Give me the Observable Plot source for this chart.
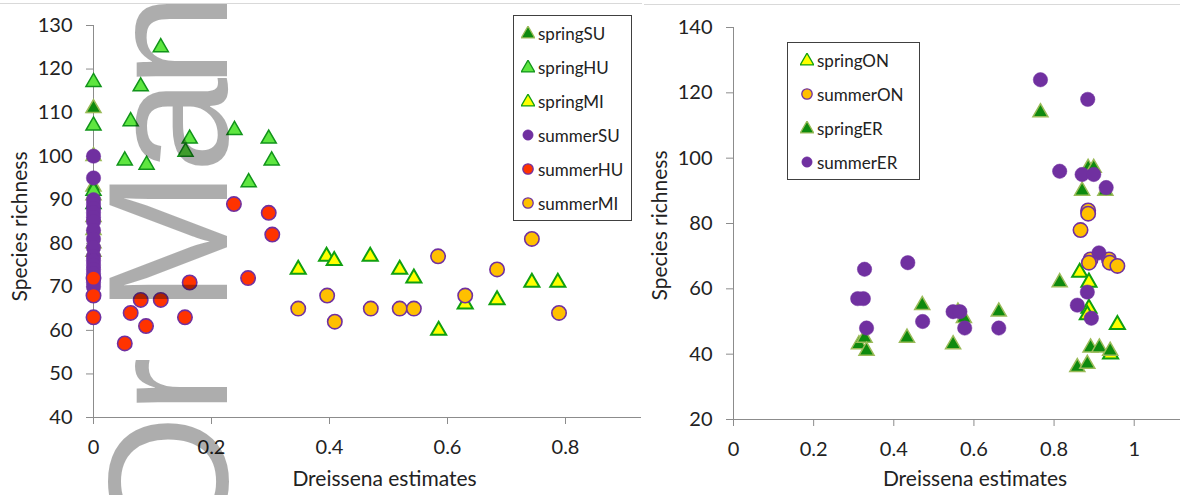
<!DOCTYPE html>
<html><head><meta charset="utf-8">
<script src="https://cdn.jsdelivr.net/npm/d3@7"></script>
<script src="https://cdn.jsdelivr.net/npm/@observablehq/plot@0.6"></script>
<style>
body{margin:0;background:#fff;font-family:Lato,sans-serif;}
#wrap{position:relative;width:1180px;height:495px;overflow:hidden;background:#fff;}
#left{position:absolute;left:0;top:0;}
#right{position:absolute;left:650px;top:0;}
.topline{position:absolute;height:1px;background:#d9d9d9;}
.legend{position:absolute;border:1px solid #404040;background:#fff;box-sizing:border-box;font-family:Lato,sans-serif;font-size:17px;color:#222;}
.legend .row{height:34px;display:flex;align-items:center;white-space:nowrap;}
.legend svg{flex:none;margin-right:3px;}
</style>
</head><body>
<div id="wrap">
  <div class="topline" style="left:0;top:3px;width:642px"></div>
  <div class="topline" style="left:644px;top:4px;width:536px"></div>
  <div id="left"></div>
  <div id="right"></div>
</div>
<script>
// ---------- data ----------
const xTitle = "Dreissena estimates";
const yTitle = "Species richness";
const watermark = "Or Man";

// left panel (Lake Superior, Huron, Michigan)
const leftXTicks = [0, 0.2, 0.4, 0.6, 0.8];
const leftYTicks = [40, 50, 60, 70, 80, 90, 100, 110, 120, 130];
const springSU = [[0,111],[0,100],[0,93],[0,91],[0,86],[0,83],[0,80],[0,78]];
const springHU = [[0,117],[0,107],[0,92],[0,89],[0.053,99],[0.063,108],[0.080,116],[0.090,98],[0.114,125],[0.156,101],[0.163,104],[0.239,106],[0.263,94],[0.297,104],[0.302,99]];
const springMI = [[0.347,74],[0.395,77],[0.408,76],[0.469,77],[0.519,74],[0.543,72],[0.585,60],[0.630,66],[0.684,67],[0.743,71],[0.787,71]];
const summerSU = [[0,100],[0,95],[0,90],[0,89],[0,88],[0,87],[0,86],[0,85],[0,83],[0,81],[0,79],[0,77],[0,76],[0,75],[0,74],[0,73],[0,71],[0,70]];
const summerHU = [[0,72],[0,68],[0,63],[0.053,57],[0.063,64],[0.080,67],[0.089,61],[0.114,67],[0.155,63],[0.163,71],[0.238,89],[0.262,72],[0.297,87],[0.303,82]];
const summerMI = [[0.347,65],[0.396,68],[0.409,62],[0.470,65],[0.519,65],[0.543,65],[0.584,77],[0.630,68],[0.684,74],[0.743,81],[0.789,64]];

// right panel (Lake Ontario, Erie)
const rightXTicks = [0, 0.2, 0.4, 0.6, 0.8, 1];
const rightYTicks = [20, 40, 60, 80, 100, 120, 140];
const springON = [[0.864,65],[0.887,62],[0.887,54],[0.883,52],[0.958,49],[0.941,40]];
const summerON = [[0.885,84],[0.885,83],[0.866,78],[0.891,69],[0.887,68],[0.937,69],[0.939,68],[0.958,67]];
const springER = [[0.313,43],[0.327,45],[0.332,41],[0.433,45],[0.471,55],[0.548,43],[0.560,53],[0.575,51],[0.662,53],[0.766,114],[0.814,62],[0.858,36],[0.883,37],[0.891,42],[0.913,42],[0.870,90],[0.928,90],[0.885,97],[0.899,97],[0.940,41]];
const summerER = [[0.310,57],[0.324,57],[0.327,66],[0.332,48],[0.435,68],[0.472,50],[0.548,53],[0.565,53],[0.577,48],[0.662,48],[0.766,124],[0.884,118],[0.814,96],[0.870,95],[0.899,95],[0.930,91],[0.912,71],[0.883,59],[0.858,55],[0.893,51]];

// ---------- styles ----------
const ST = {
  darkTri:  {symbol:"triangle", r:5.6, fill:"#0e8a0e", stroke:"#9bbb59", strokeWidth:1.5},
  lightTri: {symbol:"triangle", r:5.6, fill:"#5ee640", stroke:"#11941a", strokeWidth:1.5},
  yellowTri:{symbol:"triangle", r:5.6, fill:"#ffff00", stroke:"#10a010", strokeWidth:2},
  purple:   {symbol:"circle", r:7.2, fill:"#7030a0", stroke:"#7030a0", strokeWidth:0.5},
  red:      {symbol:"circle", r:7.2, fill:"#ff3300", stroke:"#7030a0", strokeWidth:1.6},
  orange:   {symbol:"circle", r:7.2, fill:"#ffc000", stroke:"#7030a0", strokeWidth:1.6}
};

const leftSeries = [
  {name:"springSU", pts:springSU, st:ST.darkTri},
  {name:"springHU", pts:springHU, st:ST.lightTri},
  {name:"springMI", pts:springMI, st:ST.yellowTri},
  {name:"summerSU", pts:summerSU, st:ST.purple},
  {name:"summerHU", pts:summerHU, st:ST.red},
  {name:"summerMI", pts:summerMI, st:ST.orange}
];
const rightSeries = [
  {name:"springON", pts:springON, st:ST.yellowTri},
  {name:"summerON", pts:summerON, st:ST.orange},
  {name:"springER", pts:springER, st:ST.darkTri},
  {name:"summerER", pts:summerER, st:ST.purple}
];

const fmt = d => String(d);

function panel(o) {
  const marks = [
    Plot.ruleX([o.xDomain[0]], {stroke:"#8c8c8c", strokeWidth:1}),
    Plot.ruleY([o.yDomain[0]], {stroke:"#8c8c8c", strokeWidth:1}),
    Plot.axisY({ticks:o.yTicks, tickSize:7, tickPadding:14, tickFormat:fmt, stroke:"#8c8c8c", fill:"#222", label:null, fontSize:20}),
    Plot.axisX({ticks:o.xTicks, tickSize:7, tickPadding:15, tickFormat:fmt, stroke:"#8c8c8c", fill:"#222", label:null, fontSize:20}),
    Plot.text([yTitle], {text:d=>d, frameAnchor:"left", textAnchor:"middle", rotate:-90, dx:o.yTitleDx, dy:o.yTitleDy, fontSize:21, fill:"#222", lineAnchor:"middle"}),
    Plot.text([xTitle], {text:d=>d, frameAnchor:"bottom", textAnchor:"middle", dx:o.xTitleDx, dy:o.xTitleDy, fontSize:21, fill:"#222", lineAnchor:"middle"})
  ];
  for (const s of o.series) {
    marks.push(Plot.dot(s.pts, {x:d=>d[0], y:d=>d[1], ...s.st}));
  }
  return Plot.plot({
    width:o.width, height:o.height,
    marginLeft:o.ml, marginRight:o.mr, marginTop:o.mt, marginBottom:o.mb,
    x:{domain:o.xDomain}, y:{domain:o.yDomain},
    style:{fontFamily:"Lato, sans-serif", fontSize:"20px", color:"#222", background:"transparent", overflow:"visible"},
    marks
  });
}

function legend(container, series, left, top, width, padLeft) {
  const box = document.createElement("div");
  box.className = "legend";
  Object.assign(box.style, {left:left+"px", top:top+"px", width:width+"px", paddingLeft:padLeft+"px"});
  for (const s of series) {
    const row = document.createElement("div");
    row.className = "row";
    const svg = d3.create("svg").attr("width", 14).attr("height", 14);
    const isTri = s.st.symbol === "triangle";
    const sym = d3.symbol(isTri ? d3.symbolTriangle : d3.symbolCircle, isTri ? 80 : 85);
    svg.append("path").attr("d", sym()).attr("transform", isTri ? "translate(7,8)" : "translate(7,7)")
      .attr("fill", s.st.fill).attr("stroke", s.st.stroke).attr("stroke-width", Math.min(s.st.strokeWidth, 1.3));
    row.appendChild(svg.node());
    const t = document.createElement("span");
    t.textContent = s.name;
    row.appendChild(t);
    box.appendChild(row);
  }
  container.appendChild(box);
}

const leftPlot = panel({
  width:650, height:495, ml:93, mr:9, mt:25, mb:78,
  xDomain:[0, 0.9288], yDomain:[40,130], xTicks:leftXTicks, yTicks:leftYTicks,
  series:leftSeries, yTitleDx:-73, yTitleDy:5, xTitleDx:17, xTitleDy:62
});
document.getElementById("left").appendChild(leftPlot);

// watermark text over left panel (rotated, reading upward), glyph origins along the text
const wmOrigins = [548, 414, null, 313, 173, 88];
const wm = d3.select(leftPlot).append("text")
  .attr("transform", "translate(227,0) rotate(-90)")
  .attr("text-anchor", "start")
  .style("font-family", "'Liberation Sans', Arial, sans-serif")
  .style("font-size", "171px")
  .attr("fill", "#000").attr("fill-opacity", 0.32);
Array.from(watermark).forEach((ch, i) => {
  if (wmOrigins[i] == null) return;
  wm.append("tspan").attr("x", -wmOrigins[i]).attr("y", 0).text(ch);
});

const rightPlot = panel({
  width:530, height:495, ml:83, mr:0, mt:27, mb:76,
  xDomain:[0, 1.1155], yDomain:[20,140], xTicks:rightXTicks, yTicks:rightYTicks,
  series:rightSeries, yTitleDx:-73, yTitleDy:2, xTitleDx:18, xTitleDy:60
});
document.getElementById("right").appendChild(rightPlot);

const wrap = document.getElementById("wrap");
legend(wrap, leftSeries, 513, 15, 119, 7);
legend(wrap, rightSeries, 787, 42, 133, 12);
</script>
</body></html>
